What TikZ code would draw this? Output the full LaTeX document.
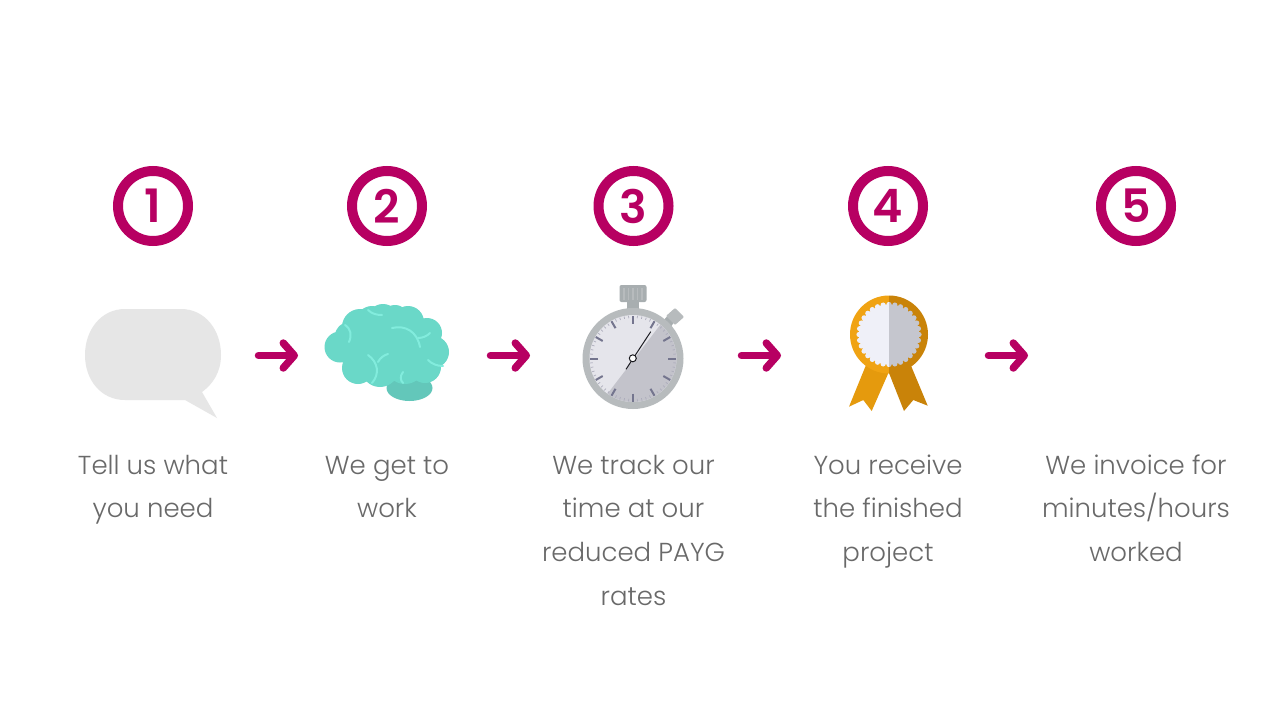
\documentclass[tikz,border=0pt]{standalone}
\usepackage{fontspec}
\setmainfont{Poppins}[UprightFont=* Light,BoldFont=* SemiBold]
\usetikzlibrary{arrows.meta}
\definecolor{mag}{HTML}{B70062}
\definecolor{txt}{HTML}{696969}
\definecolor{bubble}{HTML}{E6E6E6}
\definecolor{brainc}{HTML}{6AD8C8}
\definecolor{brainl}{HTML}{82ECDD}
\definecolor{braind}{HTML}{63C7BA}
\definecolor{steel}{HTML}{B7BBBD}
\definecolor{steeld}{HTML}{A8AEB0}
\definecolor{facel}{HTML}{E5E5EB}
\definecolor{faced}{HTML}{C3C3CB}
\definecolor{tick}{HTML}{74758E}
\definecolor{gold}{HTML}{F0A313}
\definecolor{goldd}{HTML}{C98309}
\definecolor{ribl}{HTML}{E59A0D}
\definecolor{medl}{HTML}{EFF0F8}
\definecolor{medd}{HTML}{C5C6CE}
\tikzset{
  numring/.style={circle,draw=mag,line width=10pt,minimum size=70pt,inner sep=0pt,text=mag,
    font=\fontsize{46}{46}\selectfont\bfseries},
  caption/.style={anchor=north,align=center,text=txt,inner sep=0pt,
    font=\fontsize{26}{43.6}\selectfont},
  flow/.style={draw=mag,line width=7.5pt,line cap=round,
    -{Straight Barb[round,length=11pt,width=25pt,line width=7.5pt]}},
  crease/.style={draw=brainl,line width=2pt,line cap=round},
}
\begin{document}
\begin{tikzpicture}[x=1pt,y=-1pt]
\useasboundingbox[fill=white] (0,0) rectangle (1280,720);
% numbers
\node[numring] (n1) at (153,206) {1};
\node[numring] (n2) at (387,206) {2};
\node[numring] (n3) at (633.5,206) {3};
\node[numring] (n4) at (888,206) {4};
\node[numring] (n5) at (1136,206) {5};
% captions
\node[caption] (t1) at (153,443.5) {\strut Tell us what\\you need};
\node[caption] (t2) at (387,443.5) {\strut We get to\\work};
\node[caption] (t3) at (633.5,443.5) {\strut We track our\\time at our\\reduced PAYG\\rates};
\node[caption] (t4) at (888,443.5) {\strut You receive\\the finished\\project};
\node[caption] (t5) at (1136,443.5) {\strut We invoice for\\minutes/hours\\worked};
% arrows
\coordinate (a1s) at (258.5,355.5); \coordinate (a1e) at (298,355.5);
\coordinate (a2s) at (490.5,355.5); \coordinate (a2e) at (530,355.5);
\coordinate (a3s) at (741.5,355.5); \coordinate (a3e) at (781,355.5);
\coordinate (a4s) at (988.5,355.5); \coordinate (a4e) at (1028,355.5);
\draw[flow] (a1s) -- (a1e);
\draw[flow] (a2s) -- (a2e);
\draw[flow] (a3s) -- (a3e);
\draw[flow] (a4s) -- (a4e);
% speech bubble
\fill[bubble] (125,309) -- (181,309) .. controls (205,309) and (221,330) .. (221,355)
  .. controls (221,372) and (213,384) .. (202,392) -- (217,418) -- (185,400) -- (125,400)
  .. controls (101,400) and (85,380) .. (85,355) .. controls (85,330) and (101,309) .. (125,309) -- cycle;
% brain
\fill[braind] (409.5,388) ellipse[x radius=23,y radius=13];
\fill[brainc] (340,347) circle[radius=15.5] (360,327) circle[radius=18] (383,320) circle[radius=16]
  (408,322) circle[radius=16] (427,333) circle[radius=15] (433,352) circle[radius=16]
  (395,319) circle[radius=14] (372,322) circle[radius=16] (349,336) circle[radius=14]
  (425,367) circle[radius=16] (358,368) circle[radius=16] (380,368) circle[radius=19]
  (405,364) circle[radius=20] (385,345) circle[radius=32] (355,348) circle[radius=18] (410,347) circle[radius=24];
\draw[crease] (368,310) .. controls (372,314) and (377,315) .. (382,315);
\draw[crease] (345,325) .. controls (351,329) and (352,335) .. (349,342);
\draw[crease] (392,328) .. controls (405,325) and (417,331) .. (420,347);
\draw[crease] (418,338) .. controls (423,338) and (427,336) .. (430,333);
\draw[crease] (368,355) .. controls (378,362) and (380,374) .. (372,383);
\draw[crease] (378,362) .. controls (380,358) and (384,355) .. (388,354);
\draw[crease] (403,372) .. controls (400,376) and (400,380) .. (403,383);
\draw[crease] (428,360) .. controls (432,364) and (437,366) .. (443,366);
% stopwatch
\begin{scope}
\fill[steeld,rounded corners=2pt] (619.5,285) rectangle (646.5,302);
\foreach \x in {624,628.5,633,637.5,642} \draw[steel,line width=1.5pt] (\x,288) -- (\x,300);
\fill[steeld] (627,302) rectangle (639,311);
\fill[steeld] (663,321) -- (670,328) -- (677,318) -- (671,312) -- cycle;
\fill[steel,rounded corners=1pt] (666,316) -- (675,308) -- (684,317) -- (675,325) -- cycle;
\fill[steel] (633,358.5) circle[radius=50.5];
\fill[facel] (633,358.5) circle[radius=43.5];
\begin{scope}
\clip (633,358.5) circle[radius=43.5];
\fill[faced] (590,416.7) -- (680,299) -- (720,420) -- cycle;
\end{scope}
\foreach \a in {0,6,...,354}
  \draw[tick!60,line width=0.7pt] ({633+40.5*cos(\a)},{358.5+40.5*sin(\a)}) -- ({633+43*cos(\a)},{358.5+43*sin(\a)});
\foreach \a in {0,30,...,330}
  \draw[tick,line width=2pt] ({633+35*cos(\a)},{358.5+35*sin(\a)}) -- ({633+43*cos(\a)},{358.5+43*sin(\a)});
\draw[black!75!tick,line width=1pt] (626,369.3) -- (650.7,331.7);
\fill[white,draw=black!80!tick,line width=1pt] (632.8,358.3) circle[radius=3.5];
\end{scope}
% medal
\fill[ribl] (866.7,363.3) -- (888.7,372.3) -- (871.7,411) -- (863.3,400) -- (849,406.7) -- cycle;
\fill[goldd] (888.7,372.3) -- (910,363.3) -- (927.7,405.7) -- (913.3,400) -- (904,411) -- cycle;
\begin{scope}
\clip (840,285) rectangle (889,380);
\fill[gold] (889,334.5) circle[radius=39];
\fill[medl] (889,334.5) circle[radius=30];
\foreach \a in {0,11.25,...,349} \fill[medl] ({889+30*cos(\a)},{334.5+30*sin(\a)}) circle[radius=2.6];
\end{scope}
\begin{scope}
\clip (889,285) rectangle (940,380);
\fill[goldd] (889,334.5) circle[radius=39];
\fill[medd] (889,334.5) circle[radius=30];
\foreach \a in {0,11.25,...,349} \fill[medd] ({889+30*cos(\a)},{334.5+30*sin(\a)}) circle[radius=2.6];
\end{scope}
\end{tikzpicture}
\end{document}
